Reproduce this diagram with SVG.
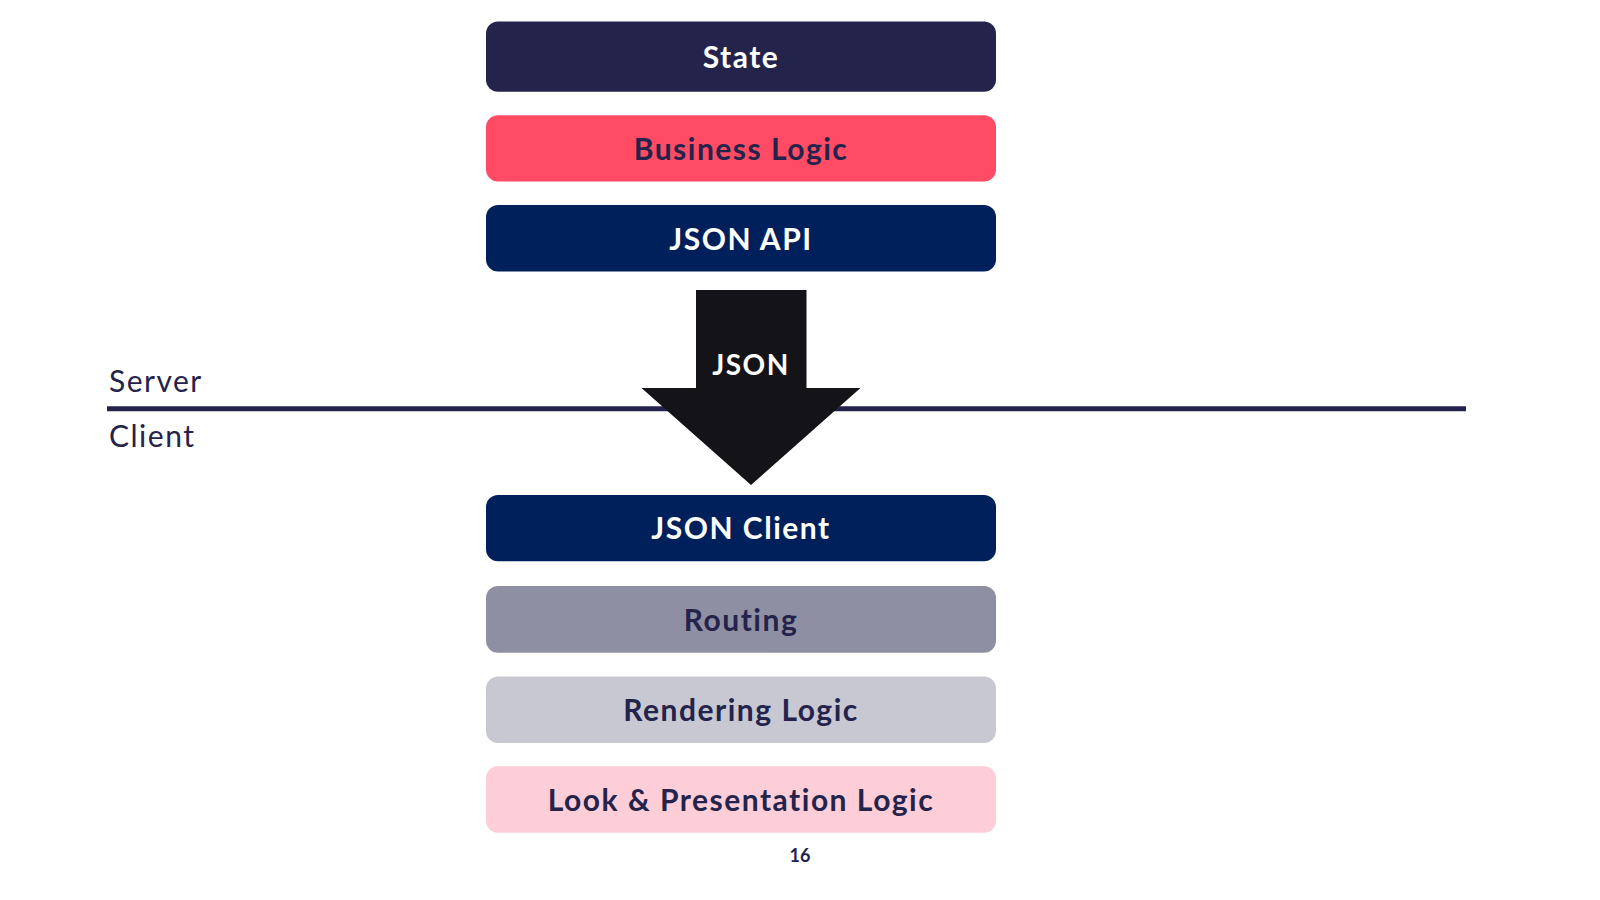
<svg xmlns="http://www.w3.org/2000/svg" width="1600" height="900" viewBox="0 0 1600 900">
<style>
.box{stroke:none}
.lbl{font-family:Lato,"Liberation Sans",sans-serif;font-weight:700;font-size:30px;letter-spacing:1.5px;text-anchor:middle}
.light{fill:#ffffff}
.dark{fill:#24234B}
.side{font-family:Lato,"Liberation Sans",sans-serif;font-size:30px;letter-spacing:1.5px;fill:#24234B}
</style>
<rect width="1600" height="900" fill="#ffffff"/>
<line x1="107" y1="408.7" x2="1466" y2="408.7" stroke="#24234B" stroke-width="5"/>
<text class="side" x="109" y="392">Server</text>
<text class="side" x="109" y="446.5">Client</text>
<g id="state"><rect class="box" x="486" y="21.5" width="510" height="70.3" rx="12" fill="#24234B"/><text class="lbl light" x="741" y="68">State</text></g>
<g id="business-logic"><rect class="box" x="486" y="115.3" width="510" height="66.3" rx="12" fill="#FF4B64"/><text class="lbl dark" x="741" y="159.8">Business Logic</text></g>
<g id="json-api"><rect class="box" x="486" y="205.1" width="510" height="66.3" rx="12" fill="#00205C"/><text class="lbl light" x="741" y="249.6">JSON API</text></g>
<g id="json-client"><rect class="box" x="486" y="494.9" width="510" height="66.3" rx="12" fill="#00205C"/><text class="lbl light" x="741" y="539.4">JSON Client</text></g>
<g id="routing"><rect class="box" x="486" y="585.9" width="510" height="66.9" rx="12" fill="#8F8FA3"/><text class="lbl dark" x="741" y="630.6">Routing</text></g>
<g id="rendering-logic"><rect class="box" x="486" y="676.5" width="510" height="66.4" rx="12" fill="#C8C8D2"/><text class="lbl dark" x="741" y="721">Rendering Logic</text></g>
<g id="look-presentation-logic"><rect class="box" x="486" y="766.3" width="510" height="66.4" rx="12" fill="#FDCED7"/><text class="lbl dark" x="741" y="810.8">Look &amp; Presentation Logic</text></g>
<g id="connectors">
<polygon points="696,290 806.5,290 806.5,388 860.5,388 751,485 641.5,388 696,388" fill="#141418"/>
<text class="lbl light" x="751" y="374.5" style="font-size:28px">JSON</text>
</g>
<text x="800" y="862" font-family="Lato,'Liberation Sans',sans-serif" font-weight="700" font-size="18" fill="#24234B" text-anchor="middle">16</text>
</svg>
